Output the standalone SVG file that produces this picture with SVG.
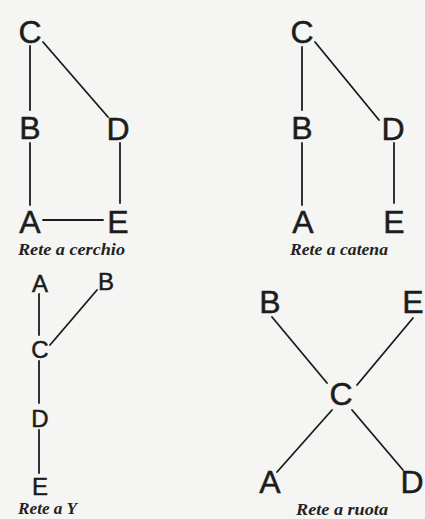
<svg xmlns="http://www.w3.org/2000/svg" width="425" height="519" viewBox="0 0 425 519">
  <style>
    .bg { fill: #f5f5f3; }
    .n text { font-family: "Liberation Sans", Arial, sans-serif; fill: #1c1c1c; stroke: #1c1c1c; stroke-width: 0.5; text-anchor: middle; }
    .big text { font-size: 32px; }
    .small text { font-size: 24px; }
    .edges line { stroke: #1c1c1c; stroke-width: 1.8; stroke-linecap: round; }
    .cap { font-family: "Liberation Serif", "Times New Roman", serif; font-style: italic; font-weight: bold; font-size: 17px; fill: #222; }
  </style>
  <rect class="bg" x="0" y="0" width="425" height="519"/>

  <!-- Ring network -->
  <g id="ring">
    <g class="edges">
      <line x1="30" y1="46" x2="30" y2="110"/>
      <line x1="30" y1="143" x2="30" y2="205"/>
      <line x1="43" y1="42" x2="108" y2="117"/>
      <line x1="120" y1="143" x2="120" y2="203"/>
      <line x1="43" y1="220" x2="103" y2="220"/>
    </g>
    <g id="ring-C" class="n big"><text x="30" y="43">C</text></g>
    <g id="ring-B" class="n big"><text x="30" y="139">B</text></g>
    <g id="ring-A" class="n big"><text x="30" y="233">A</text></g>
    <g id="ring-D" class="n big"><text x="118" y="140">D</text></g>
    <g id="ring-E" class="n big"><text x="118" y="233">E</text></g>
    <text class="cap" x="18" y="255" textLength="107" lengthAdjust="spacingAndGlyphs">Rete a cerchio</text>
  </g>

  <!-- Chain network -->
  <g id="chain">
    <g class="edges">
      <line x1="302" y1="47" x2="302" y2="110"/>
      <line x1="302" y1="143" x2="302" y2="205"/>
      <line x1="315" y1="42" x2="379" y2="120"/>
      <line x1="394" y1="143" x2="394" y2="203"/>
    </g>
    <g id="chain-C" class="n big"><text x="302" y="43">C</text></g>
    <g id="chain-B" class="n big"><text x="302" y="139">B</text></g>
    <g id="chain-A" class="n big"><text x="303" y="233">A</text></g>
    <g id="chain-D" class="n big"><text x="393" y="140">D</text></g>
    <g id="chain-E" class="n big"><text x="394" y="233">E</text></g>
    <text class="cap" x="290" y="255" textLength="98" lengthAdjust="spacingAndGlyphs">Rete a catena</text>
  </g>

  <!-- Y network -->
  <g id="ynet">
    <g class="edges">
      <line x1="39" y1="294" x2="39" y2="335"/>
      <line x1="50" y1="345" x2="97" y2="290"/>
      <line x1="39" y1="361" x2="39" y2="403"/>
      <line x1="39" y1="430" x2="39" y2="473"/>
    </g>
    <g id="y-A" class="n small"><text x="40" y="292">A</text></g>
    <g id="y-B" class="n small"><text x="106" y="290">B</text></g>
    <g id="y-C" class="n small"><text x="40" y="358">C</text></g>
    <g id="y-D" class="n small"><text x="40" y="427">D</text></g>
    <g id="y-E" class="n small"><text x="40" y="495">E</text></g>
    <text class="cap" x="18" y="514" textLength="59" lengthAdjust="spacingAndGlyphs">Rete a Y</text>
  </g>

  <!-- Wheel network -->
  <g id="wheel">
    <g class="edges">
      <line x1="272" y1="317" x2="327" y2="383"/>
      <line x1="413" y1="318" x2="357" y2="385"/>
      <line x1="332" y1="410" x2="277" y2="472"/>
      <line x1="352" y1="410" x2="403" y2="470"/>
    </g>
    <g id="w-B" class="n big"><text x="270" y="313">B</text></g>
    <g id="w-E" class="n big"><text x="413" y="313">E</text></g>
    <g id="w-C" class="n big"><text x="341" y="405">C</text></g>
    <g id="w-A" class="n big"><text x="270" y="493">A</text></g>
    <g id="w-D" class="n big"><text x="412" y="493">D</text></g>
    <text class="cap" x="296" y="515" textLength="92" lengthAdjust="spacingAndGlyphs">Rete a ruota</text>
  </g>
</svg>
